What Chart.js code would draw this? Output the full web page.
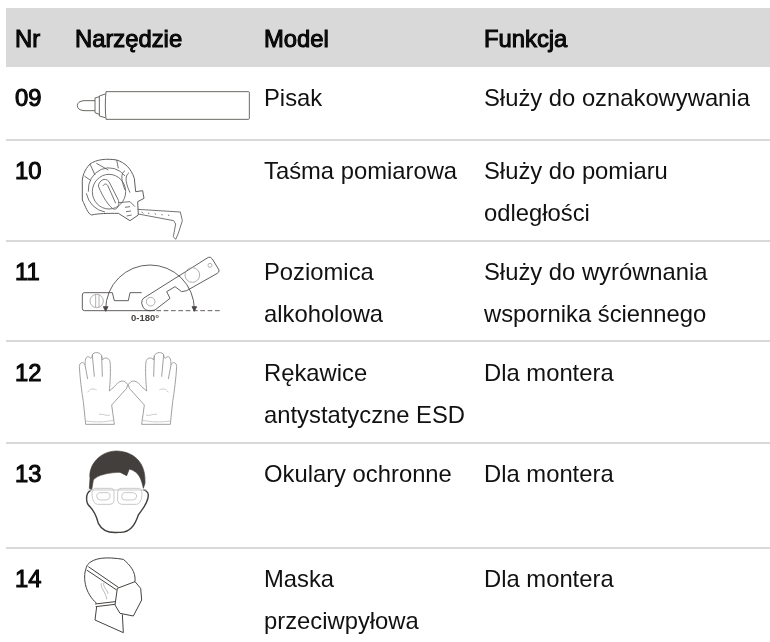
<!DOCTYPE html>
<html lang="pl">
<head>
<meta charset="utf-8">
<title>Narzędzia</title>
<script src="https://cdn.jsdelivr.net/npm/chart.js@4/dist/chart.umd.min.js"></script>
<style>
    html, body { margin: 0; padding: 0; background: #fff; }
    canvas { display: block; }
</style>
</head>
<body>
<canvas id="toolchart" width="770" height="642"></canvas>
<script>
// table content
const headers = ['Nr', 'Narzędzie', 'Model', 'Funkcja'];
const rowNumbers = ['09', '10', '11', '12', '13', '14'];
const models = [
    ['Pisak'],
    ['Taśma pomiarowa'],
    ['Poziomica', 'alkoholowa'],
    ['Rękawice', 'antystatyczne ESD'],
    ['Okulary ochronne'],
    ['Maska', 'przeciwpyłowa']
];
const functions = [
    ['Służy do oznakowywania'],
    ['Służy do pomiaru', 'odległości'],
    ['Służy do wyrównania', 'wspornika ściennego'],
    ['Dla montera'],
    ['Dla montera'],
    ['Dla montera']
];

// layout, in axis units
const columnX = [15, 75, 264, 484];
const headerBaseline = 47;
const rowBaselines = [106, 179, 280, 381, 482, 587];
const ruleRows = [140, 241, 341, 443, 548];
const lineStep = 42;

const iconInk = '#55514e';
const iconGrey = '#9a9a9a';
const icons = [
    { x: 60, y: 80, parts: [
        { ink: iconInk, w: 2.6, d: 'M138 35 L566 35 Q568 35 568 38 L568 115 Q568 118 565 118 L138 118 Q136 100 136 78 Q136 50 138 35 Z' },
        { ink: iconInk, w: 2.6, d: 'M136 42 L118 48 L118 108 L136 113 M118 50 L105 54 L105 98 L118 103 M105 62 L72 62 Q52 64 52 77 Q52 90 72 92 L105 92' }
    ] },
    { x: 75, y: 150, parts: [
        { ink: '#5f5f5f', w: 3, d: 'M22 105 C20 80 28 60 45 42 C65 28 95 25 125 30 C150 38 168 55 178 85 L182 125 L203 122 L207 145 L188 155 L190 195 L165 212 L130 190 C100 190 70 190 50 195 C38 192 32 170 22 150 Z' },
        { ink: '#6a6a6a', w: 2.8, d: 'M52 125 A50 52 0 1 1 152 125 A50 52 0 1 1 52 125 M40 125 A62 66 0 0 1 150 78 M34 130 A68 72 0 0 0 90 186 M70 108 C72 92 90 80 102 95 L130 150 C135 165 125 185 112 175 C100 165 85 145 70 108 Z M84 108 C88 100 95 100 99 108 L122 160' },
        { ink: '#5f5f5f', w: 2.6, d: 'M130 158 L165 155 L180 170 M150 172 L165 170 M153 185 L168 183 M155 198 L170 195 M188 178 L316 186 L322 212 L310 250 L302 268 L295 260 L302 222 L296 212 L190 192 M200 186 L205 190 M220 188 L222 192 M240 190 L242 194 M260 192 L262 196 M280 194 L282 198 M64 40 L100 60 M125 30 L130 55 M150 62 C135 70 140 95 150 120 M162 68 C148 78 152 100 165 128 M45 42 L60 75 M28 78 L48 92' }
    ] },
    { x: 75, y: 250, parts: [
        { ink: '#4a4745', w: 2.6, d: 'M200 128 L165 128 L160 152 L118 152 L112 128 L28 128 Q22 128 22 135 L22 175 Q22 182 28 182 L240 182 M205 145 L400 22 Q408 20 412 27 L432 60 Q433 67 427 70 L335 122 L320 125 L300 110 L275 125 L285 145 L240 180 Q205 190 200 160 Q200 150 205 145 Z M92 178 A133 133 0 0 1 358 178' },
        { ink: '#4a4745', w: 2.6, fill: true, d: 'M85 170 L99 170 L92 184 Z M351 170 L365 170 L358 184 Z' },
        { ink: '#4a4745', w: 2.6, dash: [14, 8], d: 'M244 182 L442 182' },
        { ink: '#a5a5a5', w: 2.6, d: 'M240 155 A13 13 0 1 1 214 155 A13 13 0 1 1 240 155 M374 75 A22 22 0 1 1 330 75 A22 22 0 1 1 374 75 M411 46 A6 6 0 1 1 399 46 A6 6 0 1 1 411 46 M85 153 A20 20 0 1 1 45 153 A20 20 0 1 1 85 153 M62 134 L62 172 M72 134 L72 172' }
    ] },
    { x: 75, y: 335, parts: [
        { ink: iconGrey, w: 2.8, mirror: 318, d: 'M32 268 L25 200 C20 170 15 130 13 95 C13 82 25 78 30 90 C30 70 35 62 42 66 C47 68 50 75 52 60 C55 50 75 50 80 62 L82 75 C88 65 103 68 105 80 C108 100 105 150 103 168 L118 155 C130 140 140 135 150 140 L158 148 L155 160 L110 210 L118 268 Z M30 90 L38 132 M52 60 L58 125 M80 62 L82 125' },
        { ink: '#c4c4c4', w: 2.6, mirror: 318, d: 'M32 258 C60 262 90 262 118 255 M38 172 C45 160 55 160 65 165 M72 238 C85 235 95 245 105 240' }
    ] },
    { x: 80, y: 445, parts: [
        { ink: '#423f3c', w: 2, fill: true, d: 'M30 100 C25 60 60 18 110 18 C160 20 198 50 195 115 L190 130 C185 105 178 80 148 72 L140 92 L120 82 C90 82 50 90 40 105 L35 135 L28 130 Z' },
        { ink: '#423f3c', w: 4.2, d: 'M32 136 C15 145 17 175 30 185 C45 200 50 215 55 235 C65 255 85 265 115 262 C150 265 165 240 175 210 C185 195 205 175 205 150 C205 140 195 135 190 135' },
        { ink: '#c2c2c2', w: 2.6, d: 'M22 135 L200 135 M44 130 L94 130 Q102 130 102 140 L102 168 Q100 178 90 178 L52 178 Q38 175 36 150 Q36 132 44 130 Z M123 130 L178 130 Q186 132 186 150 Q184 175 170 178 L125 178 Q115 178 113 168 L113 140 Q113 130 123 130 Z M58 143 L84 143 Q92 145 90 155 Q88 165 78 165 L62 165 Q50 165 50 153 Q50 145 58 143 Z M132 143 L160 143 Q170 145 170 153 Q170 165 158 165 L135 165 Q125 165 125 155 Q125 145 132 143 Z' }
    ] },
    { x: 80, y: 470, parts: [
        { ink: '#45423f', w: 3, d: 'M50 400 C15 370 5 320 22 285 C40 262 80 260 130 268 C150 285 168 305 165 335 M112 355 L165 335 L182 355 L185 390 L160 438 L120 430 L105 405 Z M25 290 L115 352 M20 300 L110 360 M45 402 L105 395 M47 410 L105 403 M50 410 L45 450 L130 488 L127 433' },
        { ink: '#b0b0b0', w: 2.6, d: 'M65 340 C58 352 78 365 80 388 M72 338 C66 350 84 360 84 372' }
    ] }
];

// every text cell becomes a point so that the scales place it
const cellPoints = [];
headers.forEach((text, c) => cellPoints.push({ x: columnX[c], y: headerBaseline, text: text, bold: true }));
rowNumbers.forEach((text, r) => {
    cellPoints.push({ x: columnX[0], y: rowBaselines[r], text: text, bold: true });
    models[r].forEach((line, i) => cellPoints.push({ x: columnX[2], y: rowBaselines[r] + i * lineStep, text: line }));
    functions[r].forEach((line, i) => cellPoints.push({ x: columnX[3], y: rowBaselines[r] + i * lineStep, text: line }));
});
const degreeLabel = { x: 131, y: 321, text: '0-180°', small: true };
cellPoints.push(degreeLabel);

const tablePlugin = {
    id: 'tablePlugin',
    beforeDatasetsDraw(chart) {
        const { ctx, scales: { x, y } } = chart;
        ctx.save();
        ctx.fillStyle = '#d9d9d9';
        ctx.fillRect(x.getPixelForValue(6), y.getPixelForValue(8),
            x.getPixelForValue(770) - x.getPixelForValue(6), y.getPixelForValue(67) - y.getPixelForValue(8));
        ctx.restore();
    },
    afterDatasetsDraw(chart) {
        const { ctx } = chart;

        ctx.save();
        ctx.filter = 'blur(0.45px)';
        icons.forEach(icon => {
            icon.parts.forEach(part => {
                const path = new Path2D(part.d);
                const copies = part.mirror ? [false, true] : [false];
                copies.forEach(flip => {
                    ctx.save();
                    ctx.translate(icon.x, icon.y);
                    ctx.scale(1 / 3, 1 / 3);
                    if (flip) {
                        ctx.translate(part.mirror, 0);
                        ctx.scale(-1, 1);
                    }
                    ctx.strokeStyle = part.ink;
                    ctx.fillStyle = part.ink;
                    ctx.lineWidth = part.w;
                    ctx.setLineDash(part.dash || []);
                    ctx.lineJoin = 'round';
                    if (part.fill) ctx.fill(path);
                    ctx.stroke(path);
                    ctx.restore();
                });
            });
        });
        ctx.restore();

        const meta = chart.getDatasetMeta(chart.data.datasets.length - 1);
        ctx.save();
        ctx.filter = 'blur(0.3px)';
        ctx.textBaseline = 'alphabetic';
        ctx.textAlign = 'left';
        ctx.fillStyle = '#111';
        ctx.strokeStyle = '#000';
        meta.data.forEach((point, i) => {
            const cell = cellPoints[i];
            if (cell.small) {
                ctx.font = 'bold 9.5px "Liberation Sans"';
                ctx.fillStyle = '#45423f';
                ctx.fillText(cell.text, point.x, point.y);
                ctx.fillStyle = '#111';
                return;
            }
            ctx.font = '23.8px "Liberation Sans"';
            ctx.fillText(cell.text, point.x, point.y);
            if (cell.bold) {
                ctx.lineWidth = 1;
                ctx.strokeText(cell.text, point.x, point.y);
            }
        });
        ctx.restore();
    }
};

const ruleDatasets = ruleRows.map(row => ({
    data: [{ x: 6, y: row }, { x: 770, y: row }],
    showLine: true,
    borderColor: '#d9d9d9',
    borderWidth: 2,
    pointRadius: 0
}));

new Chart(document.getElementById('toolchart').getContext('2d'), {
    type: 'scatter',
    data: {
        datasets: ruleDatasets.concat([{
            data: cellPoints,
            pointRadius: 0
        }])
    },
    options: {
        responsive: false,
        animation: false,
        layout: { padding: 0 },
        plugins: {
            legend: { display: false },
            tooltip: { enabled: false }
        },
        scales: {
            x: { display: false, min: 0, max: 770 },
            y: { display: false, min: 0, max: 642, reverse: true }
        }
    },
    plugins: [tablePlugin]
});
</script>
</body>
</html>
